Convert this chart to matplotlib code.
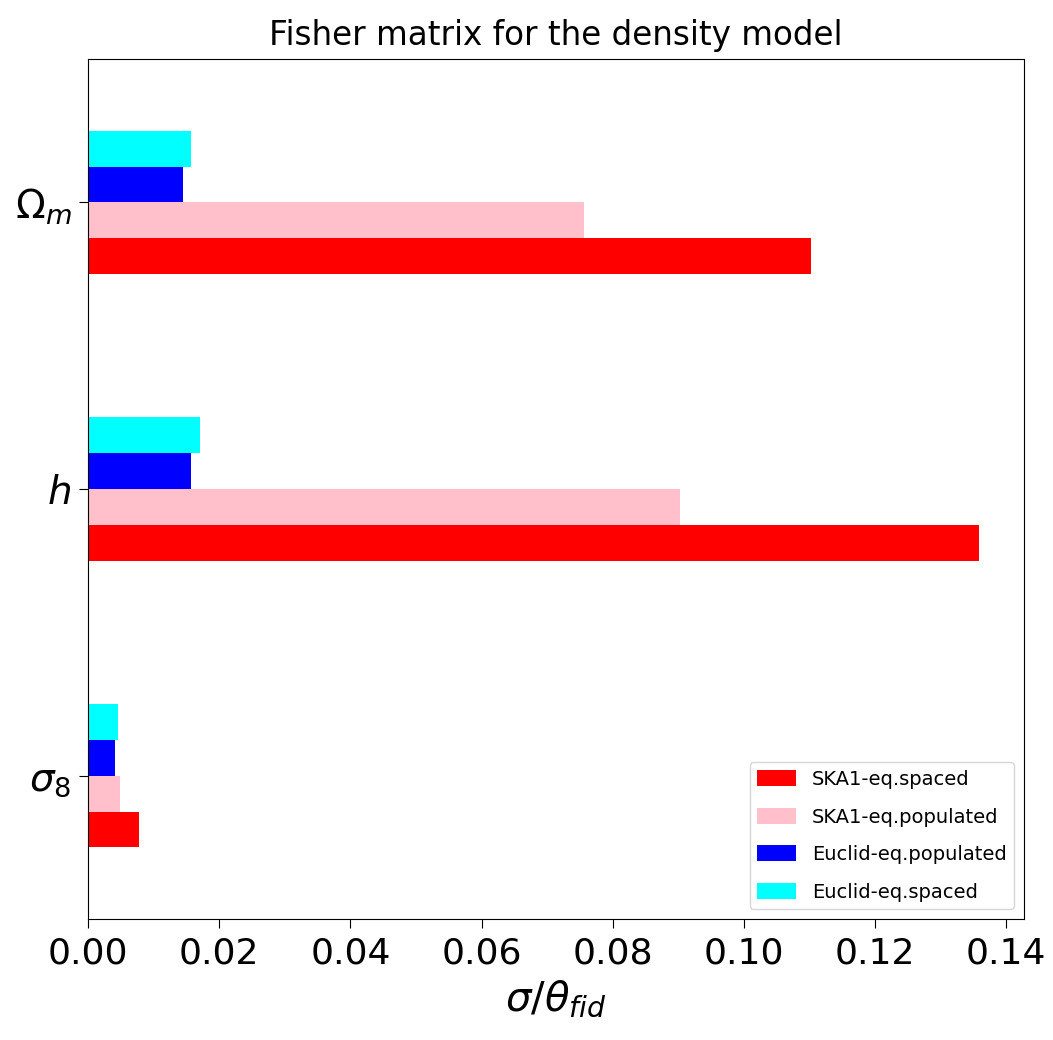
import numpy as np
import matplotlib
matplotlib.use('Agg')
import matplotlib.pyplot as plt

# relative 1-sigma errors from the Fisher forecast, one list per survey setup
params = [r'$\sigma_8$', r'$h$', r'$\Omega_m$']
ska_spaced = [0.0078, 0.1359, 0.1102]
ska_populated = [0.0049, 0.0902, 0.0756]
euclid_populated = [0.0041, 0.0157, 0.0145]
euclid_spaced = [0.0046, 0.0171, 0.0157]

series = [
    (ska_spaced, 'red', 'SKA1-eq.spaced'),
    (ska_populated, 'pink', 'SKA1-eq.populated'),
    (euclid_populated, 'blue', 'Euclid-eq.populated'),
    (euclid_spaced, 'cyan', 'Euclid-eq.spaced'),
]

ind = np.arange(len(params))
width = 0.125

fig = plt.figure(figsize=(10.53, 10.40), dpi=100)
ax = fig.add_axes([0.0836, 0.1163, 0.8889, 0.8269])

for i, (vals, col, lab) in enumerate(series):
    ax.barh(ind + (i - 1.5) * width, vals, width, color=col, label=lab)

ax.set_yticks(ind)
ax.set_yticklabels(params, fontsize=28)
ax.tick_params(axis='y', length=6.5, pad=5.5)
ax.tick_params(axis='x', labelsize=26, length=6.5, pad=6)
ax.set_ylim(-0.5, 2.5)
ax.set_xlabel(r'$\sigma/\theta_{fid}$', fontsize=29, labelpad=6)
ax.set_title('Fisher matrix for the density model', fontsize=23.5, pad=10)
ax.legend(loc='lower right', fontsize=14, labelspacing=0.95, handleheight=0.9)

fig.savefig('out.png', dpi=100)
